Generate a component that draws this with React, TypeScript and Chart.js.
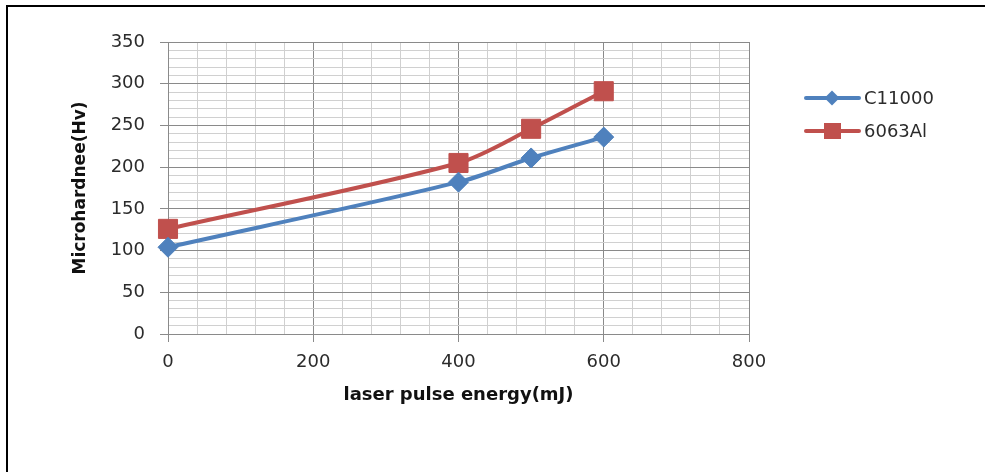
import React, { useEffect, useRef } from "react";
import { Chart, registerables } from "chart.js";

Chart.register(...registerables);

const energies = [0, 400, 500, 600];
const c11000 = [104, 182, 211, 236];
const al6063 = [126, 205, 246, 291];
const seriesNames = ["C11000", "6063Al"];
const yMajorTicks = [0, 50, 100, 150, 200, 250, 300, 350];
const xMajorTicks = [0, 200, 400, 600, 800];
const xTitle = "laser pulse energy(mJ)";
const yTitle = "Microhardnee(Hv)";

const BLUE = "#4F81BD";
const RED = "#C0504D";
const MAJOR = "#8a8a8a";
const MINOR = "#d0d0d0";
const FONT = "'DejaVu Sans', sans-serif";

const framePlugin = {
  id: "pageFrame",
  beforeDraw(chart: any) {
    const ctx = chart.ctx;
    ctx.save();
    ctx.fillStyle = "#ffffff";
    ctx.fillRect(0, 0, chart.width, chart.height);
    ctx.fillStyle = "#000000";
    ctx.fillRect(6, 5, chart.width - 6, 2);
    ctx.fillRect(6, 5, 2, chart.height - 5);
    ctx.restore();
  },
};

const legendPlugin = {
  id: "customLegend",
  afterDraw(chart: any) {
    const ctx = chart.ctx;
    const items = [
      { name: seriesNames[0], color: BLUE, shape: "diamond", y: 98 },
      { name: seriesNames[1], color: RED, shape: "square", y: 131 },
    ];
    ctx.save();
    for (const it of items) {
      ctx.strokeStyle = it.color;
      ctx.lineWidth = 4;
      ctx.lineCap = "round";
      ctx.beginPath();
      ctx.moveTo(806, it.y);
      ctx.lineTo(859, it.y);
      ctx.stroke();
      ctx.fillStyle = it.color;
      ctx.beginPath();
      if (it.shape === "diamond") {
        const r = 7.5;
        ctx.moveTo(832, it.y - r);
        ctx.lineTo(832 + r, it.y);
        ctx.lineTo(832, it.y + r);
        ctx.lineTo(832 - r, it.y);
        ctx.closePath();
      } else {
        ctx.rect(824, it.y - 8, 17, 16);
      }
      ctx.fill();
      ctx.fillStyle = "#2b2b2b";
      ctx.font = `18px ${FONT}`;
      ctx.textBaseline = "middle";
      ctx.textAlign = "left";
      ctx.fillText(it.name, 864, it.y + 1);
    }
    ctx.restore();
  },
};

export default function App() {
  const ref = useRef<HTMLCanvasElement | null>(null);

  useEffect(() => {
    document.body.style.overflow = "hidden";
    const canvas = ref.current;
    if (!canvas) return;
    const toPts = (ys: number[]) => energies.map((x, i) => ({ x, y: ys[i] }));
    const chart = new Chart(canvas, {
      type: "line",
      data: {
        datasets: [
          {
            label: seriesNames[0],
            data: toPts(c11000),
            borderColor: BLUE,
            backgroundColor: BLUE,
            borderWidth: 4,
            pointStyle: "rectRot",
            pointRadius: 10,
            pointBorderWidth: 1,
            pointBackgroundColor: BLUE,
            pointBorderColor: BLUE,
            tension: 0.3,
            clip: false,
          } as any,
          {
            label: seriesNames[1],
            data: toPts(al6063),
            borderColor: RED,
            backgroundColor: RED,
            borderWidth: 4,
            pointStyle: "rect",
            pointRadius: 13.5,
            pointBorderWidth: 1,
            pointBackgroundColor: RED,
            pointBorderColor: RED,
            tension: 0.3,
            clip: false,
          } as any,
        ],
      },
      options: {
        animation: false,
        responsive: false,
        maintainAspectRatio: false,
        layout: { padding: { left: 0, top: 42, right: 236, bottom: 0 } },
        plugins: {
          legend: { display: false },
          tooltip: { enabled: false },
        },
        scales: {
          x: {
            type: "linear",
            min: 0,
            max: 800,
            afterFit: (s: any) => {
              s.height = 138;
            },
            ticks: {
              stepSize: 40,
              autoSkip: false,
              maxRotation: 0,
              padding: 10,
              color: "#2b2b2b",
              font: { family: FONT, size: 18 },
              callback: (v: any) => (xMajorTicks.includes(Number(v)) ? String(v) : ""),
            },
            grid: {
              color: (c: any) => (c.tick && c.tick.value % 200 === 0 ? MAJOR : MINOR),
              tickColor: (c: any) => (c.tick && c.tick.value % 200 === 0 ? MAJOR : "rgba(0,0,0,0)"),
              tickLength: 8,
              lineWidth: 1,
            },
            border: { color: MAJOR, width: 1 },
            title: {
              display: true,
              text: xTitle,
              color: "#111111",
              font: { family: FONT, size: 18, weight: "bold" },
              padding: { top: 0, bottom: 66 },
            },
          },
          y: {
            type: "linear",
            min: 0,
            max: 350,
            afterFit: (s: any) => {
              s.width = 168;
            },
            ticks: {
              stepSize: 10,
              autoSkip: false,
              padding: 15,
              color: "#2b2b2b",
              font: { family: FONT, size: 18 },
              callback: (v: any) => (yMajorTicks.includes(Number(v)) ? String(v) : ""),
            },
            grid: {
              color: (c: any) => (c.tick && c.tick.value % 50 === 0 ? MAJOR : MINOR),
              tickColor: (c: any) => (c.tick && c.tick.value % 50 === 0 ? MAJOR : "rgba(0,0,0,0)"),
              tickLength: 8,
              lineWidth: 1,
            },
            border: { color: MAJOR, width: 1 },
            title: {
              display: true,
              text: yTitle,
              color: "#111111",
              font: { family: FONT, size: 17, weight: "bold" },
              padding: { top: 70, bottom: 0 },
            },
          },
        },
      },
      plugins: [framePlugin, legendPlugin],
    });
    return () => chart.destroy();
  }, []);

  return (
    <div
      style={{
        position: "fixed",
        left: 0,
        top: 0,
        width: 985,
        height: 472,
        background: "#fff",
        overflow: "hidden",
      }}
    >
      <canvas
        ref={ref}
        width={985}
        height={472}
        style={{ position: "absolute", left: 0, top: 0, width: 985, height: 472 }}
      />
    </div>
  );
}
